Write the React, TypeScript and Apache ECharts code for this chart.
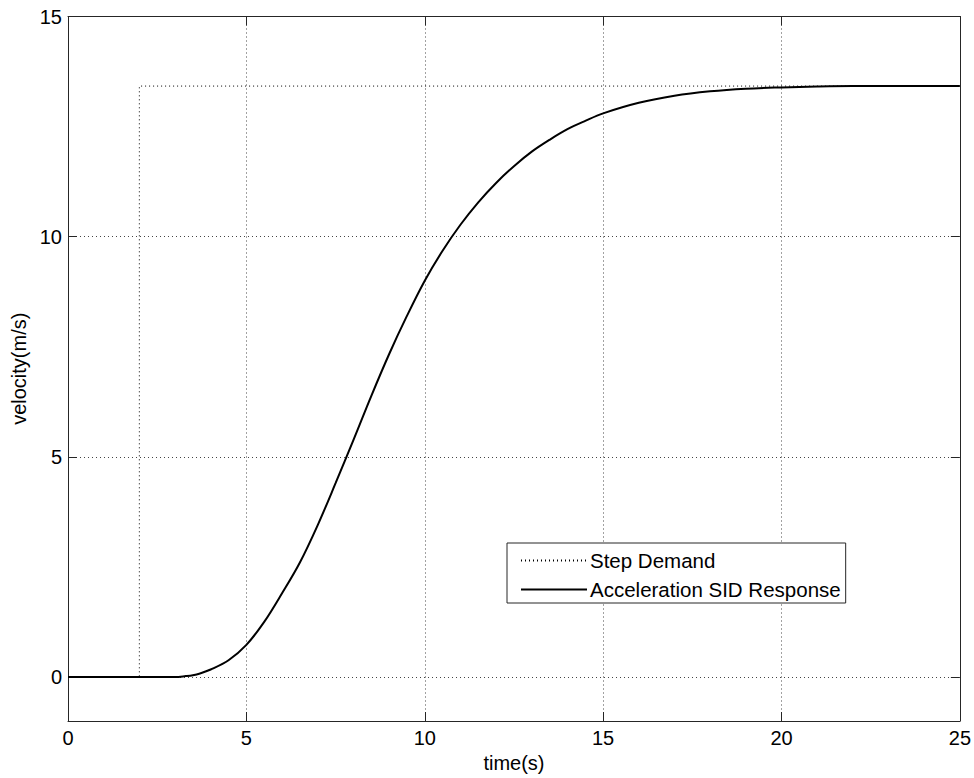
import React, { useEffect, useRef } from "react";
import * as echarts from "echarts";

const stepTime = [0, 2, 2, 25];
const stepVelocity = [0, 0, 13.42, 13.42];

const responseTime = [0, 1, 2, 3, 3.3, 3.5, 3.7, 4, 4.5, 5, 5.5, 6, 6.5, 7, 7.5, 8, 8.5, 9, 9.5, 10, 10.5, 11, 11.5, 12, 12.5, 13, 13.5, 14, 14.5, 15, 16, 17, 18, 19, 20, 21, 22, 23, 24, 25];
const responseVelocity = [0, 0, 0, 0, 0.02, 0.04, 0.08, 0.17, 0.38, 0.73, 1.25, 1.9, 2.6, 3.45, 4.4, 5.38, 6.38, 7.33, 8.2, 9.0, 9.68, 10.27, 10.78, 11.22, 11.6, 11.93, 12.2, 12.44, 12.63, 12.8, 13.04, 13.2, 13.3, 13.36, 13.39, 13.41, 13.42, 13.42, 13.42, 13.42];

const yTicks = [0, 5, 10, 15];
const legendNames = ["Step Demand", "Acceleration SID Response"];

const FONT = "Liberation Sans, Arial, Helvetica, sans-serif";
const AXIS_COLOR = "#262626";
const GRID_STYLE = { color: "#444", width: 1, type: [1, 3] as number[] };

export default function App() {
  const ref = useRef<HTMLDivElement>(null);
  useEffect(() => {
    if (!ref.current) return;
    const chart = echarts.init(ref.current, null, { renderer: "svg" });
    const tickCommon = { show: true, inside: true, length: 9, lineStyle: { color: AXIS_COLOR, width: 1 } };
    const lineCommon = { show: true, onZero: false, lineStyle: { color: AXIS_COLOR, width: 1 } };
    chart.setOption({
      animation: false,
      backgroundColor: "#fff",
      textStyle: { fontFamily: FONT },
      grid: { left: 68, right: 12, top: 16.5, bottom: 57, containLabel: false },
      legend: {
        orient: "vertical",
        left: 507,
        top: 543,
        padding: [7, 5, 3, 13],
        itemWidth: 66,
        itemHeight: 14,
        itemGap: 8,
        borderColor: AXIS_COLOR,
        borderWidth: 1,
        backgroundColor: "#fff",
        itemStyle: { opacity: 0 },
        textStyle: { fontSize: 20.5, color: "#000", fontFamily: FONT, padding: [0, 0, 0, -2] },
        data: legendNames,
      },
      xAxis: [
        {
          type: "value",
          min: 0,
          max: 25,
          interval: 5,
          name: "time(s)",
          nameLocation: "middle",
          nameGap: 31,
          nameTextStyle: { fontSize: 20, color: "#000", fontFamily: FONT },
          axisLine: lineCommon,
          axisTick: tickCommon,
          axisLabel: { fontSize: 20, color: "#000", margin: 7, fontFamily: FONT },
          splitLine: { show: true, lineStyle: GRID_STYLE },
        },
        {
          type: "value",
          position: "top",
          min: 0,
          max: 25,
          interval: 5,
          axisLine: lineCommon,
          axisTick: tickCommon,
          axisLabel: { show: false },
          splitLine: { show: false },
        },
      ],
      yAxis: [
        {
          type: "value",
          min: -1,
          max: 15,
          name: "velocity(m/s)",
          nameLocation: "middle",
          nameGap: 34,
          nameTextStyle: { fontSize: 20, color: "#000", fontFamily: FONT },
          axisLine: lineCommon,
          axisTick: { ...tickCommon, customValues: yTicks },
          axisLabel: { fontSize: 20, color: "#000", margin: 6, fontFamily: FONT, customValues: yTicks },
          splitLine: { show: true, lineStyle: GRID_STYLE },
        },
        {
          type: "value",
          position: "right",
          min: -1,
          max: 15,
          axisLine: lineCommon,
          axisTick: { ...tickCommon, customValues: yTicks },
          axisLabel: { show: false, customValues: yTicks },
          splitLine: { show: false },
        },
      ],
      series: [
        {
          name: legendNames[0],
          type: "line",
          symbol: "none",
          xAxisIndex: 0,
          yAxisIndex: 0,
          lineStyle: { color: "#000", width: 1, type: [1, 3] },
          itemStyle: { color: "#000" },
          data: stepTime.map((t, i) => [t, stepVelocity[i]]),
          z: 2,
        },
        {
          name: legendNames[1],
          type: "line",
          symbol: "none",
          smooth: 0.35,
          xAxisIndex: 0,
          yAxisIndex: 0,
          lineStyle: { color: "#000", width: 2 },
          itemStyle: { color: "#000" },
          data: responseTime.map((t, i) => [t, responseVelocity[i]]),
          z: 3,
        },
      ],
    });
    return () => chart.dispose();
  }, []);
  return <div ref={ref} style={{ width: 974, height: 778, position: "absolute", left: 0, top: 0 }} />;
}
